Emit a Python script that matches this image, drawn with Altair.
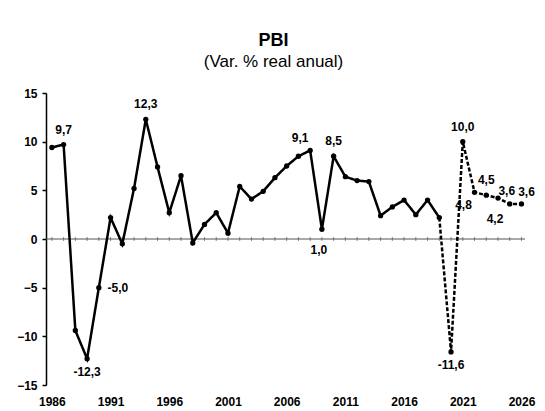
import altair as alt
import pandas as pd

# ---- data ----
years = list(range(1986, 2027))
values = [9.4, 9.7, -9.4, -12.3, -5.0, 2.2, -0.5, 5.2, 12.3, 7.4,
          2.7, 6.5, -0.4, 1.5, 2.7, 0.6, 5.4, 4.1, 4.9, 6.3,
          7.5, 8.5, 9.1, 1.0, 8.5, 6.4, 6.0, 5.9, 2.4, 3.3,
          4.0, 2.5, 4.0, 2.2, -11.6, 10.0, 4.8, 4.5, 4.2, 3.6, 3.6]
last_observed = 2019

label_years = [1987, 1989, 1990, 1994, 2008, 2009, 2010, 2020, 2021, 2022, 2023, 2024, 2025, 2026]
label_groups = ["above", "below", "right", "above", "aboveleft", "below2", "above",
                "below", "above", "belowleft", "above", "below2", "aboveleft2", "aboveright"]

x_ticks = [1986, 1991, 1996, 2001, 2006, 2011, 2016, 2021, 2026]
y_ticks = [-15, -10, -5, 0, 5, 10, 15]

title_text = "PBI"
subtitle_text = "(Var. % real anual)"

# ---- tables ----
df = pd.DataFrame({"year": years, "value": values})
obs = df[df.year <= last_observed].assign(serie="obs")
proj = df[df.year >= last_observed].assign(serie="proy")
lines_df = pd.concat([obs, proj], ignore_index=True)

lab = df[df.year.isin(label_years)].copy()
lab["grupo"] = lab.year.map(dict(zip(label_years, label_groups)))
lab["texto"] = lab.value.map(lambda v: f"{v:.1f}".replace(".", ","))

FONT = "Liberation Sans"
xscale = alt.Scale(domain=[1985.5, 2026.3], nice=False, zero=False)
yscale = alt.Scale(domain=[-15, 15], nice=False)

X = alt.X("year:Q", scale=xscale,
          axis=alt.Axis(values=x_ticks, format="d", title=None, domain=False,
                        ticks=False, grid=False, labelFont=FONT, labelFontWeight="bold",
                        labelFontSize=12, labelPadding=11, labelColor="black"))
Y = alt.Y("value:Q", scale=yscale,
          axis=alt.Axis(values=y_ticks, title=None, grid=False, domainColor="black",
                        domainWidth=1.5, tickColor="black", tickWidth=1.5, tickSize=4,
                        labelFont=FONT, labelFontWeight="bold", labelFontSize=12,
                        labelColor="black", labelPadding=5))

zero_rule = alt.Chart(pd.DataFrame({"z": [0]})).mark_rule(
    color="#555", strokeWidth=1.2).encode(y=alt.Y("z:Q", scale=yscale))

zero_ticks = alt.Chart(df).mark_tick(orient="vertical", size=4, thickness=1, color="#555").encode(
    x=alt.X("year:Q", scale=xscale), y=alt.datum(0))

line = alt.Chart(lines_df).mark_line(color="black", strokeWidth=2.5).encode(
    x=X, y=Y,
    detail="serie:N",
    strokeDash=alt.StrokeDash("serie:N", scale=alt.Scale(domain=["obs", "proy"],
                                                         range=[[1, 0], [4, 2]]), legend=None))

points = alt.Chart(df).mark_circle(size=28, color="black", opacity=1).encode(
    x=alt.X("year:Q", scale=xscale), y=alt.Y("value:Q", scale=yscale))

offsets = {
    "above": (0, -15),
    "below": (0, 13),
    "below2": (-3, 21),
    "right": (19, 0),
    "aboveleft": (-10, -12),
    "aboveleft2": (-3, -13),
    "belowleft": (-11, 13),
    "aboveright": (5, -12),
}

label_layers = []
for g, (ddx, ddy) in offsets.items():
    label_layers.append(
        alt.Chart(lab).transform_filter(alt.datum.grupo == g).mark_text(
            font=FONT, fontWeight="bold", fontSize=12, color="black",
            dx=ddx, dy=ddy, align="center", baseline="middle").encode(
            x=alt.X("year:Q", scale=xscale), y=alt.Y("value:Q", scale=yscale),
            text="texto:N"))

chart = alt.layer(zero_rule, zero_ticks, line, points, *label_layers).properties(
    width=479, height=292,
    title=alt.TitleParams(text=title_text, subtitle=subtitle_text, font=FONT, fontSize=18,
                          fontWeight="bold", color="black", subtitleFont=FONT,
                          subtitleFontSize=17, subtitleColor="black", subtitlePadding=4,
                          anchor="middle", dx=-12, offset=17),
    autosize=alt.AutoSizeParams(type="none"),
    padding={"left": 38, "top": 85, "right": 12, "bottom": 23},
).configure_view(stroke=None)

chart.save("out.html", embed_options={"renderer": "svg", "actions": False})
